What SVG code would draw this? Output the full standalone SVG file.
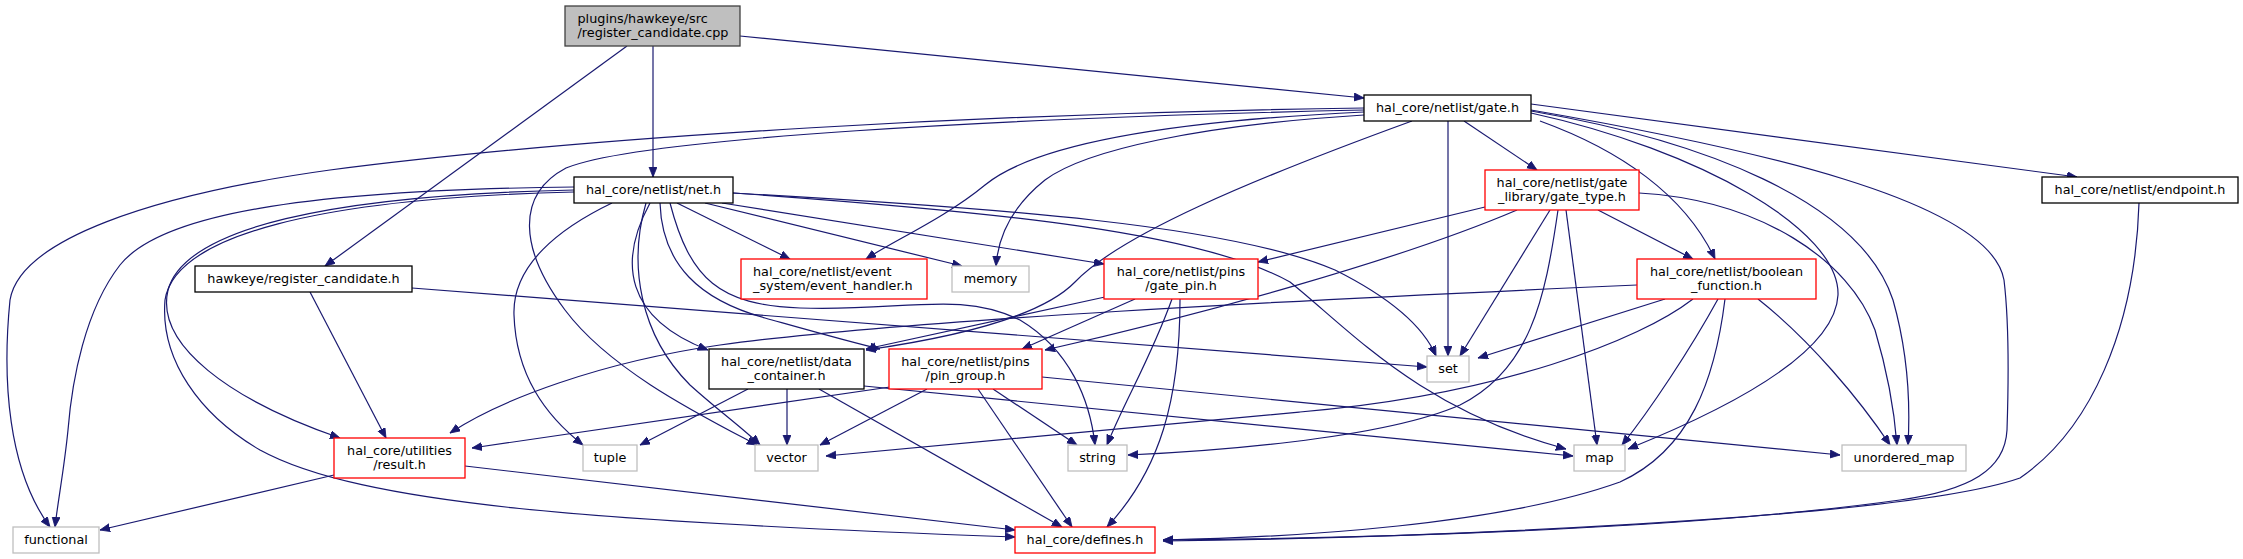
<svg xmlns="http://www.w3.org/2000/svg" width="2243" height="559" viewBox="0 0 2243 559">
<style>
.bg{fill:#ffffff}
.n rect{fill:#ffffff;stroke-width:1.3}
.blk rect{stroke:#000000}
.red rect{stroke:#ff0000}
.gry rect{stroke:#bfbfbf}
.root rect{fill:#bfbfbf;stroke:#404040}
text{font-family:"DejaVu Sans","Liberation Sans",sans-serif;font-size:12.8px;fill:#000000;text-anchor:middle}
text.l{text-anchor:start}
#edges path{fill:none;stroke:#191970;stroke-width:1.2;marker-end:url(#arr)}
</style>
<defs>
<marker id="arr" markerUnits="userSpaceOnUse" markerWidth="11" markerHeight="9" refX="10" refY="4" orient="auto">
<path d="M0,0 L10,4 L0,8 z" fill="#191970" stroke="#191970" stroke-width="0.8"/>
</marker>
</defs>
<rect class="bg" x="0" y="0" width="2243" height="559"/>
<g id="edges">
<path d="M653,46 L653,177"/>
<path d="M740,36 L1364,98"/>
<path d="M627,46 L325,266"/>
<path d="M310,292 L386,438"/>
<path d="M412,288 L1427,367"/>
<path d="M574,187 C300,190 160,215 120,265 C85,310 72,380 68,430 C64,470 58,500 55,527"/>
<path d="M574,190 C330,195 185,228 168,290 C155,345 230,400 340,438"/>
<path d="M574,192 C320,198 175,235 165,300 C160,360 200,415 260,450 C360,505 600,522 1015,537"/>
<path d="M612,203 C560,228 512,265 514,315 C516,375 545,415 583,445"/>
<path d="M646,203 C628,265 640,335 690,385 C720,412 745,430 760,445"/>
<path d="M650,203 C618,262 625,318 708,350"/>
<path d="M660,203 C662,265 700,300 765,318 C815,332 850,342 880,349"/>
<path d="M670,203 C690,280 720,305 800,308 C900,312 960,290 1020,320 C1070,350 1090,400 1095,445"/>
<path d="M677,203 L790,259"/>
<path d="M705,203 L962,266"/>
<path d="M722,203 L1104,264"/>
<path d="M733,193 C1000,208 1230,225 1335,270 C1395,300 1425,330 1436,356"/>
<path d="M733,193 C1000,212 1200,232 1290,282 C1350,330 1420,410 1566,449"/>
<path d="M1364,108 C1000,113 600,135 330,170 C150,195 20,240 10,300 C2,380 8,470 50,527"/>
<path d="M1364,110 C1000,118 640,138 566,168 C515,195 520,250 565,310 C610,370 700,415 757,445"/>
<path d="M1364,112 C1150,122 1030,148 985,185 C945,218 895,240 866,259"/>
<path d="M1364,115 C1200,125 1085,150 1045,180 C1010,208 998,238 996,266"/>
<path d="M1412,121 C1250,180 1120,235 1075,282 C1040,318 950,338 866,350"/>
<path d="M1448,121 L1448,356"/>
<path d="M1464,121 L1537,170"/>
<path d="M1540,121 C1620,150 1685,195 1715,259"/>
<path d="M1531,104 L2077,177"/>
<path d="M1531,113 C1700,150 1840,230 1838,295 C1835,360 1700,420 1628,449"/>
<path d="M1531,111 C1700,140 1860,200 1893,300 C1910,360 1910,410 1908,445"/>
<path d="M1531,110 C1750,148 1990,200 2004,280 C2010,330 2008,400 2007,430 C2005,470 1970,490 1900,500 C1700,528 1400,538 1163,540"/>
<path d="M1485,207 L1258,262"/>
<path d="M1517,210 C1400,260 1200,315 1045,350"/>
<path d="M1550,210 L1460,356"/>
<path d="M1558,210 C1545,300 1530,370 1460,405 C1380,440 1200,452 1128,455"/>
<path d="M1566,210 L1597,445"/>
<path d="M1598,210 L1693,259"/>
<path d="M1639,193 C1760,200 1850,260 1875,330 C1890,380 1895,420 1897,445"/>
<path d="M2139,203 C2135,330 2090,430 2020,478 C1900,520 1400,538 1163,541"/>
<path d="M1105,297 C1000,320 930,335 866,349"/>
<path d="M1135,299 L1022,349"/>
<path d="M1172,299 C1150,360 1125,400 1107,445"/>
<path d="M1180,299 C1180,400 1160,470 1107,527"/>
<path d="M1665,299 L1478,358"/>
<path d="M1693,299 C1640,340 1500,395 1300,412 C1100,430 900,450 826,456"/>
<path d="M1718,299 C1690,350 1650,410 1622,445"/>
<path d="M1725,299 C1715,380 1690,450 1620,482 C1500,525 1300,537 1163,540"/>
<path d="M1758,299 C1810,340 1860,400 1890,445"/>
<path d="M1637,285 C1300,300 900,320 720,345 C600,362 500,400 450,433"/>
<path d="M890,387 L472,448"/>
<path d="M927,389 L820,445"/>
<path d="M993,389 L1077,445"/>
<path d="M978,389 L1072,527"/>
<path d="M1042,377 L1840,455"/>
<path d="M748,389 L640,445"/>
<path d="M787,389 L787,445"/>
<path d="M819,389 L1062,527"/>
<path d="M864,386 L1573,456"/>
<path d="M334,475 L100,530"/>
<path d="M465,466 L1015,530"/>
</g>
<g id="node1" class="n root"><rect x="565" y="6" width="175" height="40"/><text class="l" x="577.5" y="22.5">plugins/hawkeye/src</text><text class="l" x="577.5" y="36.5">/register_candidate.cpp</text></g>
<g id="node2" class="n blk"><rect x="1364" y="95" width="167" height="26"/><text x="1447.5" y="111.5">hal_core/netlist/gate.h</text></g>
<g id="node3" class="n blk"><rect x="574" y="177" width="159" height="26"/><text x="653.5" y="193.5">hal_core/netlist/net.h</text></g>
<g id="node4" class="n blk"><rect x="2042" y="177" width="196" height="26"/><text x="2140" y="193.5">hal_core/netlist/endpoint.h</text></g>
<g id="node5" class="n red"><rect x="1485" y="170" width="154" height="40"/><text x="1562" y="186.5">hal_core/netlist/gate</text><text x="1562" y="200.5">_library/gate_type.h</text></g>
<g id="node6" class="n blk"><rect x="195" y="266" width="217" height="26"/><text x="303.5" y="282.5">hawkeye/register_candidate.h</text></g>
<g id="node7" class="n red"><rect x="741" y="259" width="186" height="40"/><text class="l" x="753" y="275.5">hal_core/netlist/event</text><text class="l" x="753" y="289.5">_system/event_handler.h</text></g>
<g id="node8" class="n gry"><rect x="952" y="266" width="77" height="26"/><text x="990.5" y="282.5">memory</text></g>
<g id="node9" class="n red"><rect x="1104" y="259" width="154" height="40"/><text x="1181" y="275.5">hal_core/netlist/pins</text><text x="1181" y="289.5">/gate_pin.h</text></g>
<g id="node10" class="n red"><rect x="1637" y="259" width="179" height="40"/><text x="1726.5" y="275.5">hal_core/netlist/boolean</text><text x="1726.5" y="289.5">_function.h</text></g>
<g id="node11" class="n gry"><rect x="1427" y="356" width="42" height="26"/><text x="1448" y="372.5">set</text></g>
<g id="node12" class="n blk"><rect x="709" y="349" width="155" height="40"/><text x="786.5" y="365.5">hal_core/netlist/data</text><text x="786.5" y="379.5">_container.h</text></g>
<g id="node13" class="n red"><rect x="889" y="349" width="153" height="40"/><text x="965.5" y="365.5">hal_core/netlist/pins</text><text x="965.5" y="379.5">/pin_group.h</text></g>
<g id="node14" class="n red"><rect x="334" y="438" width="131" height="40"/><text x="399.5" y="454.5">hal_core/utilities</text><text x="399.5" y="468.5">/result.h</text></g>
<g id="node15" class="n gry"><rect x="583" y="445" width="54" height="26"/><text x="610" y="461.5">tuple</text></g>
<g id="node16" class="n gry"><rect x="755" y="445" width="63" height="26"/><text x="786.5" y="461.5">vector</text></g>
<g id="node17" class="n gry"><rect x="1068" y="445" width="59" height="26"/><text x="1097.5" y="461.5">string</text></g>
<g id="node18" class="n gry"><rect x="1574" y="445" width="51" height="26"/><text x="1599.5" y="461.5">map</text></g>
<g id="node19" class="n gry"><rect x="1842" y="445" width="124" height="26"/><text x="1904" y="461.5">unordered_map</text></g>
<g id="node20" class="n gry"><rect x="13" y="527" width="86" height="26"/><text x="56" y="543.5">functional</text></g>
<g id="node21" class="n red"><rect x="1015" y="527" width="140" height="26"/><text x="1085" y="543.5">hal_core/defines.h</text></g>
</svg>
